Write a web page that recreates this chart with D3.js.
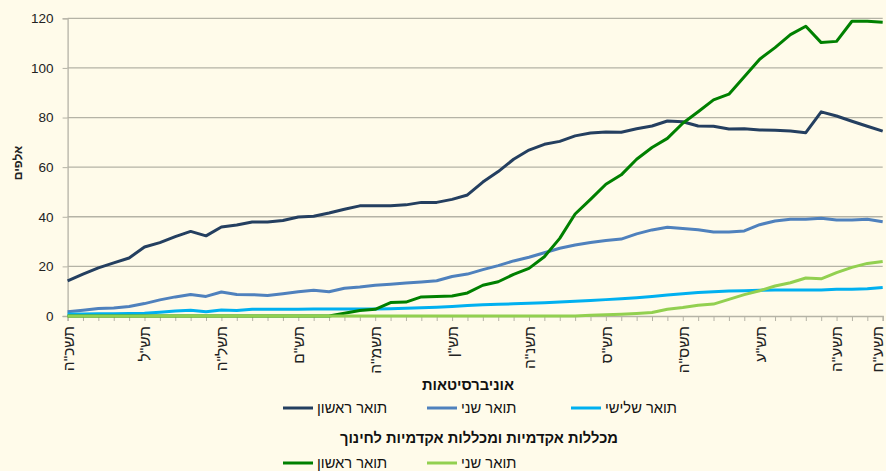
<!DOCTYPE html>
<html><head><meta charset="utf-8">
<script src="https://cdn.jsdelivr.net/npm/d3@7/dist/d3.min.js"></script>
<style>
html,body{margin:0;padding:0;background:#fffbea;}
svg{display:block;font-family:"Liberation Sans","DejaVu Sans",Arial,sans-serif;}
</style></head>
<body>
<svg id="chart" width="886" height="471"></svg>
<script>
const years = ['תשכ"ה','תשכ"ו','תשכ"ז','תשכ"ח','תשכ"ט','תש"ל','תשל"א','תשל"ב','תשל"ג','תשל"ד',
'תשל"ה','תשל"ו','תשל"ז','תשל"ח','תשל"ט','תש"ם','תשמ"א','תשמ"ב','תשמ"ג','תשמ"ד',
'תשמ"ה','תשמ"ו','תשמ"ז','תשמ"ח','תשמ"ט','תש"ן','תשנ"א','תשנ"ב','תשנ"ג','תשנ"ד',
'תשנ"ה','תשנ"ו','תשנ"ז','תשנ"ח','תשנ"ט','תש"ס','תשס"א','תשס"ב','תשס"ג','תשס"ד',
'תשס"ה','תשס"ו','תשס"ז','תשס"ח','תשס"ט','תש"ע','תשע"א','תשע"ב','תשע"ג','תשע"ד',
'תשע"ה','תשע"ו','תשע"ז','תשע"ח'];
const shownLabels = ['תשכ"ה','תש"ל','תשל"ה','תש"ם','תשמ"ה','תש"ן','תשנ"ה','תש"ס','תשס"ה','תש"ע','תשע"ה','תשע"ח'];
const yTicks = [0,20,40,60,80,100,120];

const uniFirst = [14.2,16.9,19.4,21.4,23.4,27.8,29.6,32.0,34.1,32.3,35.9,36.7,37.9,37.9,38.5,39.9,40.2,41.5,43.0,44.4,
44.4,44.4,44.8,45.8,45.8,47.0,48.8,54.0,58.2,63.2,66.9,69.2,70.4,72.6,73.8,74.2,74.1,75.5,76.6,78.6,
78.3,76.6,76.5,75.4,75.5,75.0,74.9,74.6,73.9,82.3,80.6,78.5,76.5,74.5];
const uniSecond = [1.7,2.3,3.0,3.2,3.8,5.0,6.5,7.7,8.7,7.9,9.7,8.7,8.6,8.3,9.0,9.8,10.4,9.8,11.2,11.7,
12.4,12.8,13.3,13.7,14.2,15.9,16.9,18.7,20.3,22.2,23.7,25.5,27.3,28.6,29.6,30.4,31.0,33.1,34.7,35.8,
35.3,34.8,33.9,33.9,34.3,36.8,38.3,39.0,39.0,39.4,38.7,38.7,39.0,38.0];
const uniThird = [0.8,0.8,0.9,0.9,1.0,1.1,1.5,2.0,2.3,1.7,2.4,2.2,2.7,2.7,2.7,2.7,2.8,2.8,2.8,2.8,
2.8,2.9,3.1,3.3,3.5,3.8,4.2,4.5,4.7,4.9,5.1,5.3,5.6,5.9,6.2,6.6,7.0,7.4,7.9,8.5,
9.0,9.5,9.8,10.1,10.2,10.4,10.5,10.5,10.5,10.5,10.8,10.8,11.0,11.5];
const colFirst = [0,0,0,0,0,0,0,0,0,0,0,0,0,0,0,0,0,0,1.1,2.2,
2.7,5.4,5.6,7.7,7.9,8.1,9.3,12.4,13.8,16.8,19.2,23.9,31.3,41.1,47.0,53.1,56.9,63.2,67.9,71.6,
77.7,82.3,87.1,89.4,96.4,103.5,108.2,113.4,116.8,110.2,110.7,118.8,118.8,118.4];
const colSecond = [0,0,0,0,0,0,0,0,0,0,0,0,0,0,0,0,0,0,0,0,
0,0,0,0,0,0,0,0,0,0,0,0,0,0,0.3,0.5,0.7,1.0,1.4,2.7,
3.4,4.3,4.8,6.7,8.6,10.2,12.1,13.4,15.3,15.0,17.5,19.6,21.2,22.0];

const seriesNames = ['תואר ראשון','תואר שני','תואר שלישי','תואר ראשון','תואר שני'];
const groupTitles = ['אוניברסיטאות','מכללות אקדמיות ומכללות אקדמיות לחינוך'];
const yTitle = 'אלפים';

const series = [
  {name: seriesNames[0], values: uniFirst, color: '#243f60'},
  {name: seriesNames[1], values: uniSecond, color: '#4f81bd'},
  {name: seriesNames[2], values: uniThird, color: '#00b0f0'},
  {name: seriesNames[3], values: colFirst, color: '#008000'},
  {name: seriesNames[4], values: colSecond, color: '#92d050'}
];

const svg = d3.select('#chart');
const pLeft = 67.6, pRight = 882.7, pTop = 18.3, pBottom = 316;

const x = d3.scalePoint().domain(years).range([pLeft, pRight]);
const y = d3.scaleLinear().domain([0,120]).range([pBottom, pTop]);

// gridlines
svg.append('g').selectAll('line').data(yTicks.filter(d=>d>0)).join('line')
  .attr('x1', pLeft).attr('x2', pRight)
  .attr('y1', d=>y(d)).attr('y2', d=>y(d))
  .attr('stroke', '#b5b3a6').attr('stroke-width', 1.3);

// y axis
const yAxis = svg.append('g').attr('transform', `translate(${pLeft},0)`)
  .call(d3.axisLeft(y).tickValues(yTicks).tickSize(5).tickPadding(9));
yAxis.select('.domain').attr('stroke', '#b5b3a6').attr('stroke-width', 1.3);
yAxis.selectAll('.tick line').attr('stroke', '#b5b3a6');
yAxis.selectAll('text').attr('font-size', 13.5).attr('fill', '#222').attr('font-family','"Liberation Sans",Arial,sans-serif');

// x axis
const lastYear = years[years.length-1];
const xAxis = svg.append('g').attr('transform', `translate(0,${pBottom})`)
  .call(d3.axisBottom(x).tickSize(5).tickFormat(d => shownLabels.includes(d) ? d : ''));
xAxis.select('.domain').attr('stroke', '#b5b3a6').attr('stroke-width', 1.3);
xAxis.selectAll('.tick line').attr('stroke', '#b5b3a6');
xAxis.selectAll('text')
  .attr('font-size', 15.5).attr('fill', '#222')
  .attr('text-anchor', 'end')
  .attr('transform', 'rotate(-90)')
  .attr('x', -10).attr('y', d => d === lastYear ? -6 : 0).attr('dy', '0.35em');

// y title
svg.append('text').attr('transform', 'translate(18,163) rotate(-90)')
  .attr('text-anchor', 'middle').attr('dy', '0.35em')
  .attr('font-size', 12).attr('font-weight', 'bold').attr('fill', '#222').text(yTitle);

// lines
const line = d3.line().x((d,i)=>x(years[i])).y(d=>y(d));
svg.append('g').selectAll('path').data(series).join('path')
  .attr('d', d=>line(d.values))
  .attr('fill', 'none').attr('stroke', d=>d.color)
  .attr('stroke-width', 3).attr('stroke-linejoin', 'round');

// legend
const lg = svg.append('g').attr('font-size', 14.7).attr('fill', '#111');
lg.append('text').attr('x', 468).attr('y', 390).attr('text-anchor','middle')
  .attr('font-weight','bold').text(groupTitles[0]);
lg.append('text').attr('x', 479).attr('y', 443).attr('text-anchor','middle')
  .attr('font-weight','bold').text(groupTitles[1]);
const items = [
  {s: series[0], lx: 283, ly: 408},
  {s: series[1], lx: 427, ly: 408},
  {s: series[2], lx: 571, ly: 408},
  {s: series[3], lx: 283, ly: 463},
  {s: series[4], lx: 427, ly: 463}
];
items.forEach(it => {
  lg.append('line').attr('x1', it.lx).attr('x2', it.lx+30).attr('y1', it.ly).attr('y2', it.ly)
    .attr('stroke', it.s.color).attr('stroke-width', 3);
  lg.append('text').attr('x', it.lx+34).attr('y', it.ly).attr('dy','0.33em')
    .attr('text-anchor','start').text(it.s.name);
});
</script>
</body></html>
